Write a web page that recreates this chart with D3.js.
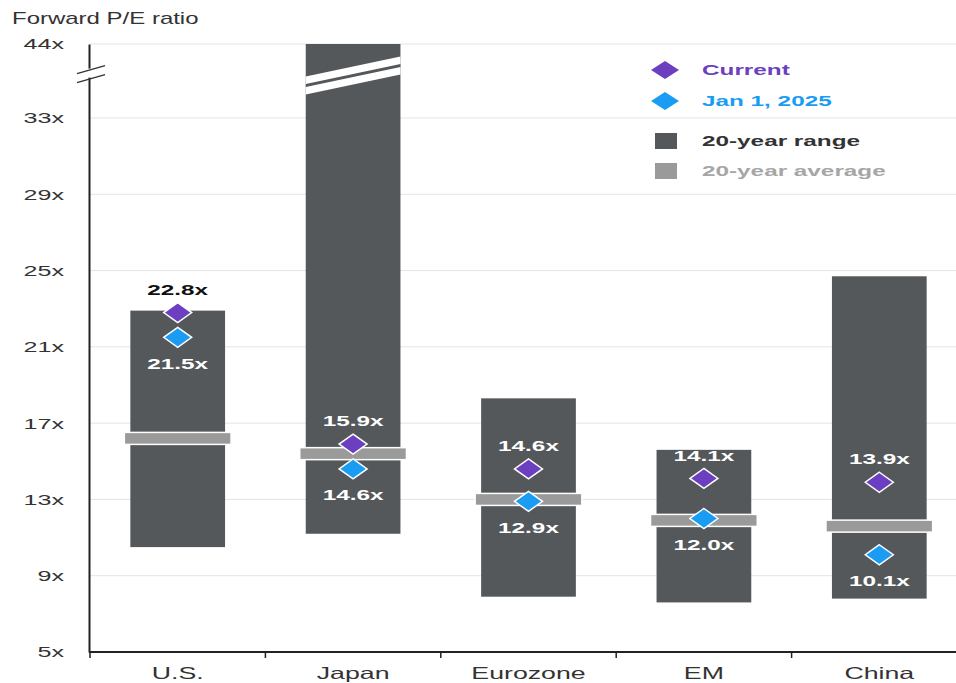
<!DOCTYPE html>
<html>
<head>
<meta charset="utf-8">
<script src="https://cdn.jsdelivr.net/npm/d3@7"></script>
<style>
  body { margin: 0; background: #fff; }
  svg text { font-family: "Liberation Sans", Arial, sans-serif; }
</style>
</head>
<body>
<svg id="chart" width="956" height="683"></svg>
<script>
// Forward P/E by region, 20-year range / average with current and Jan 1 2025 markers
const categories = ["U.S.", "Japan", "Eurozone", "EM", "China"];
const rangeLow = [10.5, 11.2, 7.9, 7.6, 7.8];
const rangeHigh = [22.9, 44, 18.3, 15.6, 24.7];
const average20 = [16.2, 15.4, 13.0, 11.9, 11.6];
const current = [22.8, 15.9, 14.6, 14.1, 13.9];
const jan2025 = [21.5, 14.6, 12.9, 12.0, 10.1];
const yTicks = [5, 9, 13, 17, 21, 25, 29, 33, 44];

const colors = {
    range: "#54585a",
    average: "#9a9a9a",
    current: "#6c3fc1",
    jan: "#1a9cf2",
    text: "#333"
};

// the source artwork is stretched sideways, so text gets a horizontal scale
const K = 1.62;
const place = (px, py) => `translate(${px},${py}) scale(${K},1)`;

const svg = d3.select("#chart"),
    width = +svg.attr("width");

// broken axis: 33x -> 44x is squeezed into the top strip
const y = d3.scaleLinear().domain([5, 33, 44]).range([652, 118, 44]);
const x = d3.scaleBand().domain(categories).range([90, 967]);
const barW = x.bandwidth() * 0.54;
const cx = c => x(c) + x.bandwidth() / 2;

// gridlines
svg.append("g")
   .selectAll("line")
   .data(yTicks)
   .join("line")
   .attr("x1", 90).attr("x2", width)
   .attr("y1", d => y(d)).attr("y2", d => y(d))
   .attr("stroke", "#e4e4e4").attr("stroke-width", 1);

// y axis
const yAxis = svg.append("g")
   .attr("transform", "translate(89,0)")
   .call(d3.axisLeft(y).tickValues(yTicks).tickSize(0).tickFormat(d => d + "x"));
yAxis.select(".domain").attr("stroke", "#222").attr("stroke-width", 2);
yAxis.selectAll("text")
   .attr("x", -25 / K)
   .attr("transform", `scale(${K},1)`)
   .attr("font-size", 15.5).attr("fill", colors.text);

// axis break marks
const yb = y(39.6);
svg.append("rect").attr("x", 86).attr("y", yb - 5).attr("width", 6).attr("height", 9).attr("fill", "#fff");
[-5, 4].forEach(o => {
    svg.append("line")
       .attr("x1", 77).attr("y1", yb + o + 5)
       .attr("x2", 105).attr("y2", yb + o - 3)
       .attr("stroke", "#333").attr("stroke-width", 1.5);
});

// x axis
const xAxis = svg.append("g")
   .attr("transform", "translate(0," + y(5) + ")");
xAxis.append("line")
   .attr("x1", 89).attr("x2", width)
   .attr("stroke", "#222").attr("stroke-width", 2);
xAxis.selectAll(".tk")
   .data(categories)
   .join("line")
   .attr("class", "tk")
   .attr("x1", d => x(d)).attr("x2", d => x(d))
   .attr("y1", 0).attr("y2", 6)
   .attr("stroke", "#222").attr("stroke-width", 1.5);
xAxis.selectAll("text")
   .data(categories)
   .join("text")
   .attr("transform", d => place(cx(d), 27))
   .attr("text-anchor", "middle")
   .attr("font-size", 16.5)
   .attr("fill", colors.text)
   .text(d => d);

// 20-year range bars
svg.append("g")
   .selectAll("rect")
   .data(categories)
   .join("rect")
   .attr("x", d => cx(d) - barW / 2)
   .attr("width", barW)
   .attr("y", (d, i) => y(Math.min(rangeHigh[i], 44)))
   .attr("height", (d, i) => y(rangeLow[i]) - y(Math.min(rangeHigh[i], 44)))
   .attr("fill", colors.range);

// break on bars that run off the top
categories.forEach((c, i) => {
    if (rangeHigh[i] < 44) return;
    const x0 = cx(c) - barW / 2, x1 = cx(c) + barW / 2;
    const mid = y(39.3), drop = 10;
    const band = (t, h, fill) => svg.append("path")
        .attr("d", `M${x0},${mid + drop + t} L${x1},${mid - drop + t} L${x1},${mid - drop + t + h} L${x0},${mid + drop + t + h}Z`)
        .attr("fill", fill);
    band(-9, 18, "#fff");
    band(-1.5, 3, colors.range);
});

// 20-year averages
svg.append("g")
   .selectAll("rect")
   .data(categories)
   .join("rect")
   .attr("x", d => cx(d) - barW / 2 - 6)
   .attr("width", barW + 12)
   .attr("y", (d, i) => y(average20[i]) - 6)
   .attr("height", 12)
   .attr("fill", colors.average)
   .attr("stroke", "#fff").attr("stroke-width", 1.5);

const diamond = "M0,-10 L14,0 L0,10 L-14,0Z";

// markers
function drawMarkers(values, color) {
    svg.append("g")
       .selectAll("path")
       .data(categories)
       .join("path")
       .attr("d", diamond)
       .attr("transform", (d, i) => `translate(${cx(d)},${y(values[i])})`)
       .attr("fill", color)
       .attr("stroke", "#fff").attr("stroke-width", 1.5);
}
drawMarkers(jan2025, colors.jan);
drawMarkers(current, colors.current);

// data labels
function drawLabels(values, offset) {
    svg.append("g")
       .selectAll("text")
       .data(categories)
       .join("text")
       .attr("transform", (d, i) => place(cx(d), y(values[i]) + offset))
       .attr("text-anchor", "middle")
       .attr("dominant-baseline", "central")
       .attr("font-size", 15)
       .attr("font-weight", "bold")
       .attr("fill", (d, i) => (y(values[i]) + offset < y(rangeHigh[i])) ? "#111" : "#fff")
       .text((d, i) => values[i].toFixed(1) + "x");
}
drawLabels(current, -23);
drawLabels(jan2025, 26);

// title
svg.append("text")
   .attr("transform", `translate(12,24) scale(1.5,1)`)
   .attr("font-size", 16)
   .attr("fill", colors.text)
   .text("Forward P/E ratio");

// legend
const legend = svg.append("g");
const legendItems = [
    { label: "Current", color: colors.current, shape: "diamond", y: 70 },
    { label: "Jan 1, 2025", color: colors.jan, shape: "diamond", y: 101 },
    { label: "20-year range", color: colors.range, text: "#333", shape: "rect", y: 141 },
    { label: "20-year average", color: colors.average, text: "#a6a6a6", shape: "rect", y: 171 }
];
legendItems.forEach(it => {
    if (it.shape === "diamond") {
        legend.append("path")
              .attr("d", "M0,-9 L14,0 L0,9 L-14,0Z")
              .attr("transform", `translate(665,${it.y})`)
              .attr("fill", it.color);
    } else {
        legend.append("rect")
              .attr("x", 655).attr("y", it.y - 8)
              .attr("width", 22).attr("height", 16)
              .attr("fill", it.color);
    }
    legend.append("text")
          .attr("transform", place(702, it.y))
          .attr("dominant-baseline", "central")
          .attr("font-size", 15)
          .attr("font-weight", "bold")
          .attr("fill", it.text || it.color)
          .text(it.label);
});
</script>
</body>
</html>
